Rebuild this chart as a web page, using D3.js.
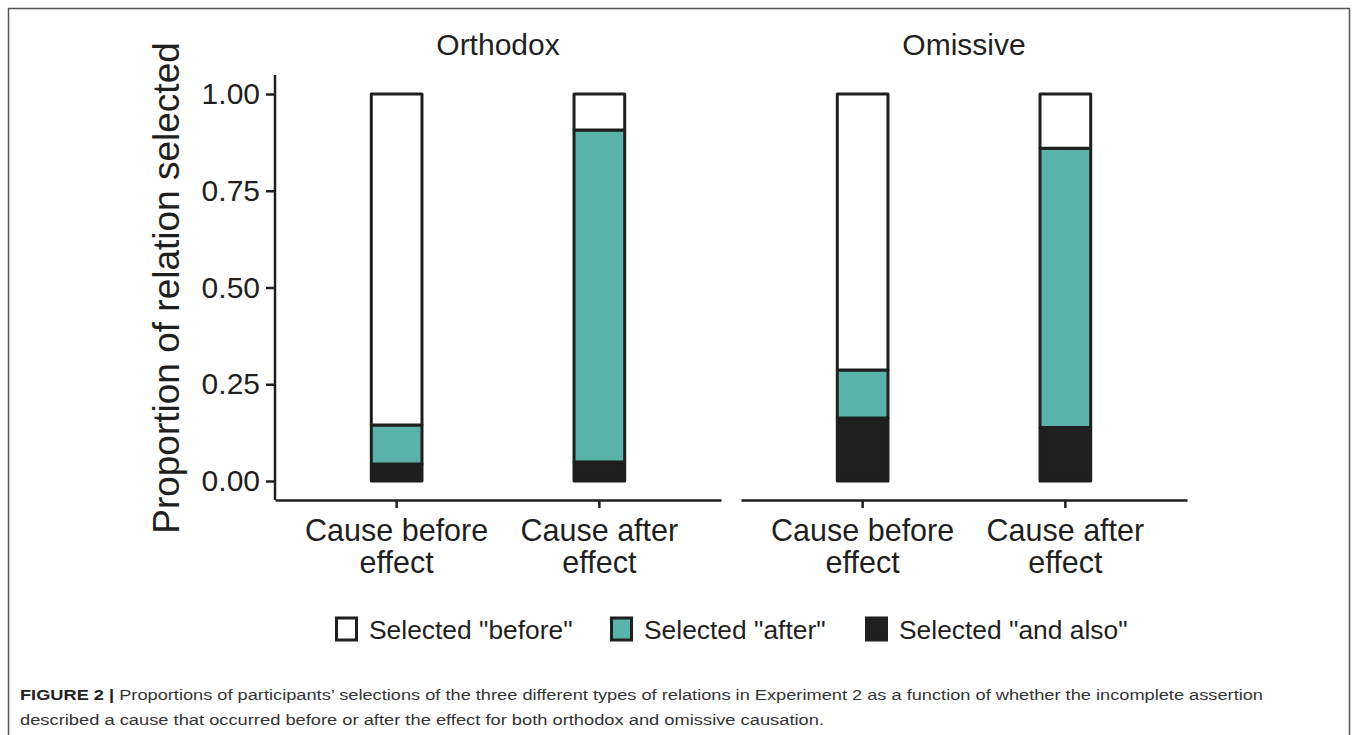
<!DOCTYPE html>
<html><head><meta charset="utf-8">
<script src="https://cdn.jsdelivr.net/npm/d3@7"></script>
<style>body{margin:0;background:#fff}svg{display:block}text{font-family:"Liberation Sans",Arial,sans-serif}</style>
</head><body>
<svg id="c" width="1358" height="735"></svg>
<script>
const panels = ["Orthodox", "Omissive"];
const conditions = ["Cause before effect", "Cause after effect"];
const conditionLines = [["Cause before", "effect"], ["Cause after", "effect"]];
// values per panel: [cause before, cause after]
const andAlso = [[0.044, 0.049], [0.163, 0.138]];
const selAfter = [[0.101, 0.858], [0.124, 0.722]];
const selBefore = [[0.855, 0.093], [0.713, 0.140]];
const seriesNames = ['Selected "before"', 'Selected "after"', 'Selected "and also"'];
const seriesColors = ["#ffffff", "#59b3a9", "#1f1f1f"];
const yTicks = [0, 0.25, 0.5, 0.75, 1.0];
const caption1 = "Proportions of participants\u2019 selections of the three different types of relations in Experiment 2 as a function of whether the incomplete assertion";
const caption2 = "described a cause that occurred before or after the effect for both orthodox and omissive causation.";

const svg = d3.select("#c");
const ink = "#1f1f1f";
// frame
svg.append("path").attr("d", "M8.5,740 V8.5 H1349.5 V740").attr("fill", "none").attr("stroke", "#555").attr("stroke-width", 1.5);

const panelX = [275, 741], panelW = 446, panelTop = 75, panelBottom = 500;
const y = d3.scaleLinear().domain([0, 1]).range([481, 94]);

panels.forEach((p, pi) => {
  const g = svg.append("g").attr("transform", `translate(${panelX[pi]},0)`);
  const x = d3.scaleBand().domain(conditions).range([0, panelW]).paddingInner(0.75).paddingOuter(0.475);
  // title
  g.append("text").attr("x", panelW / 2).attr("y", 55).attr("text-anchor", "middle")
    .attr("font-size", 30).attr("fill", ink).text(p);
  // bars
  conditions.forEach((c, ci) => {
    const segs = [
      {v0: 0, v1: andAlso[pi][ci], col: seriesColors[2]},
      {v0: andAlso[pi][ci], v1: andAlso[pi][ci] + selAfter[pi][ci], col: seriesColors[1]},
      {v0: andAlso[pi][ci] + selAfter[pi][ci], v1: andAlso[pi][ci] + selAfter[pi][ci] + selBefore[pi][ci], col: seriesColors[0]}
    ];
    g.selectAll(null).data(segs).enter().append("rect")
      .attr("x", x(c)).attr("width", x.bandwidth())
      .attr("y", d => y(d.v1)).attr("height", d => y(d.v0) - y(d.v1))
      .attr("fill", d => d.col).attr("stroke", ink).attr("stroke-width", 3).attr("stroke-linejoin", "round");
  });
  // x axis
  const xa = g.append("g").attr("transform", `translate(0,${panelBottom})`)
    .call(d3.axisBottom(x).tickSize(8).tickSizeOuter(0).tickFormat(""));
  xa.select(".domain").attr("stroke", ink).attr("stroke-width", 2.5);
  xa.selectAll(".tick line").attr("stroke", ink).attr("stroke-width", 2.5);
  conditions.forEach((c, ci) => {
    const t = g.append("text").attr("x", x(c) + x.bandwidth() / 2).attr("y", 541)
      .attr("text-anchor", "middle").attr("font-size", 30.5).attr("fill", ink);
    conditionLines[ci].forEach((ln, li) => t.append("tspan").attr("x", x(c) + x.bandwidth() / 2).attr("dy", li ? 32 : 0).text(ln));
  });
  if (pi === 0) {
    const ya = g.append("g").call(d3.axisLeft(y).tickValues(yTicks).tickFormat(d3.format(".2f")).tickSize(9).tickPadding(6).tickSizeOuter(0));
    ya.select(".domain").attr("d", `M0,${panelTop}V${panelBottom}`).attr("stroke", ink).attr("stroke-width", 2.5);
    ya.selectAll(".tick line").attr("stroke", ink).attr("stroke-width", 2.5);
    ya.selectAll(".tick text").attr("font-size", 30).attr("fill", ink).attr("font-family", '"Liberation Sans",Arial,sans-serif');
  }
});

// y title
svg.append("text").attr("transform", "translate(179,288) rotate(-90)").attr("text-anchor", "middle")
  .attr("font-size", 37).attr("fill", ink).text("Proportion of relation selected");

// legend
const legX = [335, 610, 865];
seriesNames.forEach((n, i) => {
  svg.append("rect").attr("x", legX[i] + 1.5).attr("y", 618).attr("width", 20).attr("height", 22)
    .attr("fill", seriesColors[i]).attr("stroke", ink).attr("stroke-width", 3);
  svg.append("text").attr("x", legX[i] + 34).attr("y", 639).attr("font-size", 26.4).attr("fill", ink).text(n);
});

// caption
const cap = svg.append("text").attr("x", 20).attr("y", 700).attr("font-size", 15.5).attr("fill", "#333")
  .attr("textLength", 1243).attr("lengthAdjust", "spacingAndGlyphs");
cap.append("tspan").attr("font-weight", "bold").attr("fill", "#222").text("FIGURE 2 | ");
cap.append("tspan").text(caption1);
svg.append("text").attr("x", 20).attr("y", 725).attr("font-size", 15.5).attr("fill", "#333")
  .attr("textLength", 804).attr("lengthAdjust", "spacingAndGlyphs").text(caption2);
</script>
</body></html>
